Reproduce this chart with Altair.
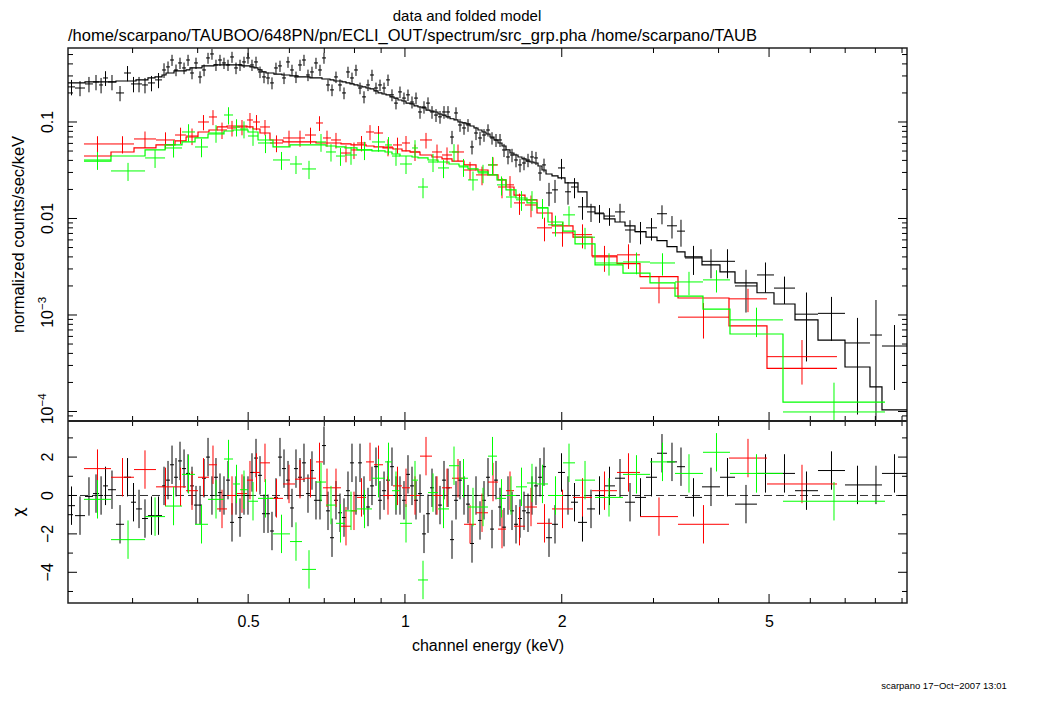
import altair as alt
import pandas as pd

# ---------------- data ----------------
black_edges = [0.2255, 0.2326, 0.2431, 0.2518, 0.2587, 0.2633, 0.2691, 0.2788, 0.2889, 0.2979, 0.3046, 0.3128,
               0.3211, 0.3313, 0.3417, 0.3478,
               0.3540, 0.3603, 0.3667, 0.3733, 0.3800, 0.3867, 0.3936, 0.4006, 0.4078, 0.4151,
               0.4224, 0.4299, 0.4376, 0.4454, 0.4534, 0.4615, 0.4697, 0.4781, 0.4866, 0.4953,
               0.5041, 0.5131, 0.5223, 0.5316, 0.5411, 0.5507, 0.5605, 0.5705, 0.5807, 0.5911,
               0.6016, 0.6123, 0.6233, 0.6344, 0.6457, 0.6572, 0.6689, 0.6809, 0.6930, 0.7054,
               0.7180, 0.7308, 0.7438, 0.7571, 0.7706, 0.7843, 0.7983, 0.8126, 0.8271, 0.8419,
               0.8568, 0.8721, 0.8877, 0.9036, 0.9197, 0.9360, 0.9527, 0.9697, 0.9870, 1.0046,
               1.0226, 1.0409, 1.0594, 1.0783, 1.0976, 1.1171, 1.1370, 1.1573, 1.1780, 1.1990,
               1.2204, 1.2422, 1.2643, 1.2868, 1.3098, 1.3332, 1.3570, 1.3811, 1.4058, 1.4309,
               1.4564, 1.4824, 1.5088, 1.5357, 1.5631, 1.5910, 1.6194, 1.6483, 1.6777, 1.7076,
               1.7380, 1.7690, 1.8006, 1.8327, 1.8655,
               1.9156, 1.9670, 2.0290, 2.0834, 2.1488, 2.2360, 2.3167, 2.4106, 2.5307, 2.6452,
               2.7647, 2.9024, 3.0468, 3.1845, 3.3283, 3.4485, 3.7173, 4.0252, 4.3013, 4.7402,
               5.1103, 5.6077, 6.2074, 6.9946, 7.8114, 8.2369, 9.2]
black_rate = [0.231, 0.225, 0.248, 0.260, 0.242, 0.286, 0.260, 0.200, 0.322, 0.248, 0.248, 0.242, 0.254, 0.273, 0.346,
              0.372, 0.439, 0.346, 0.409, 0.363, 0.439, 0.322, 0.409, 0.293, 0.346,
              0.461, 0.507, 0.390, 0.439, 0.409, 0.390, 0.472, 0.363, 0.390, 0.419,
              0.461, 0.390, 0.419, 0.330, 0.293, 0.286, 0.254, 0.363, 0.381, 0.286,
              0.419, 0.346, 0.293, 0.390, 0.439, 0.307, 0.330, 0.409, 0.346, 0.461,
              0.242, 0.215, 0.293, 0.242, 0.200, 0.330, 0.286, 0.346, 0.225, 0.182,
              0.242, 0.307, 0.225, 0.242, 0.225, 0.273, 0.191, 0.157, 0.205, 0.177,
              0.191, 0.161, 0.177, 0.127, 0.143, 0.157, 0.127, 0.118, 0.113, 0.127,
              0.127, 0.0699, 0.124, 0.0931, 0.0867, 0.0931, 0.0551, 0.0769, 0.0683, 0.0733,
              0.0826, 0.0683, 0.0651, 0.0651, 0.0513, 0.0434, 0.0455, 0.0404, 0.0359, 0.0376,
              0.0404, 0.0434, 0.0424, 0.0296, 0.0359,
              0.0184, 0.0198, 0.0334, 0.0189, 0.0212, 0.0132, 0.0117, 0.0114, 0.0106, 0.0117,
              0.0076, 0.0073, 0.0080, 0.0112, 0.0084, 0.0074, 0.0039, 0.0036, 0.0036, 0.0020,
              0.0026, 0.0019, 0.00102, 0.00104, 0.000513, 0.00062, 0.000477]
black_err = [0.042, 0.040, 0.045, 0.047, 0.044, 0.050, 0.047, 0.036, 0.058, 0.045, 0.045, 0.044, 0.046, 0.049, 0.060,
             0.052, 0.058, 0.048, 0.055, 0.050, 0.058, 0.045, 0.055, 0.042, 0.048,
             0.060, 0.065, 0.052, 0.058, 0.055, 0.052, 0.062, 0.050, 0.052, 0.056,
             0.060, 0.052, 0.056, 0.045, 0.041, 0.040, 0.036, 0.049, 0.051, 0.039,
             0.055, 0.046, 0.040, 0.052, 0.058, 0.042, 0.044, 0.054, 0.046, 0.060,
             0.034, 0.030, 0.040, 0.034, 0.028, 0.044, 0.039, 0.046, 0.031, 0.026,
             0.033, 0.041, 0.031, 0.033, 0.031, 0.037, 0.027, 0.022, 0.028, 0.025,
             0.026, 0.023, 0.025, 0.019, 0.021, 0.023, 0.019, 0.018, 0.017, 0.019,
             0.019, 0.011, 0.018, 0.014, 0.013, 0.014, 0.009, 0.012, 0.011, 0.011,
             0.012, 0.010, 0.010, 0.010, 0.0080, 0.0070, 0.0072, 0.0065, 0.0058, 0.0060,
             0.0064, 0.0068, 0.0066, 0.0050, 0.0058,
             0.005, 0.0053, 0.008, 0.005, 0.005, 0.0035, 0.0025, 0.0024, 0.0022, 0.0025,
             0.0020, 0.0019, 0.0021, 0.0025, 0.0022, 0.0023, 0.0013, 0.0012, 0.0012, 0.00094,
             0.0009, 0.0006, 0.00069, 0.0005, 0.00042, 0.00081, 0.00031]
black_model = [0.254, 0.254, 0.260, 0.260, 0.260, 0.260, 0.260, 0.266, 0.266, 0.266, 0.273, 0.273, 0.286, 0.293, 0.307,
               0.322, 0.322, 0.338, 0.338, 0.338, 0.346, 0.363, 0.363, 0.363, 0.381,
               0.381, 0.381, 0.390, 0.390, 0.390, 0.390, 0.390, 0.390, 0.390, 0.381,
               0.381, 0.372, 0.363, 0.346, 0.330, 0.322, 0.322, 0.314, 0.314, 0.307,
               0.307, 0.300, 0.300, 0.293, 0.293, 0.293, 0.286, 0.286, 0.286, 0.279,
               0.279, 0.273, 0.266, 0.266, 0.260, 0.254, 0.248, 0.242, 0.236, 0.231,
               0.225, 0.220, 0.210, 0.200, 0.195, 0.191, 0.182, 0.177, 0.169, 0.165,
               0.157, 0.154, 0.147, 0.143, 0.140, 0.133, 0.130, 0.127, 0.121, 0.118,
               0.113, 0.108, 0.105, 0.100, 0.0977, 0.0954, 0.0909, 0.0867, 0.0826, 0.0788,
               0.0751, 0.0699, 0.0651, 0.0606, 0.0564, 0.0513, 0.0477, 0.0455, 0.0434, 0.0414,
               0.0394, 0.0385, 0.0376, 0.0350, 0.0318,
               0.0289, 0.0276, 0.0263, 0.0234, 0.0234, 0.0189, 0.0132, 0.0112, 0.0099, 0.0092,
               0.0084, 0.0073, 0.0064, 0.0059, 0.0051, 0.0045, 0.0040, 0.0033, 0.0028, 0.00215,
               0.0017, 0.0013, 0.00089, 0.00055, 0.000289, 0.000180, 0.000104]
black_chi = [-0.53, -1.05, -0.05, 0.1, 0.0, 0.5, 0.3, -1.5, 0.95, -0.35, -0.7, -1.2, -1.05, -1.05, 0.5,
             0.8, 1.6, 0.95, 1.8, 1.4, 1.15, 0.5, -0.5, -0.5, 0.9,
             2.0, 0.0, 0.95, 0.15, 0.0, 0.8, -1.4, 0.0, -1.15, 0.0,
             0.0, 1.2, 1.95, 1.05, -0.95, -0.95, -1.85, -0.1, 2.0, 1.4,
             0.8, -0.65, 1.4, 0.95, 1.7, 0.1, 1.3, -0.25, -0.25, 2.6,
             -0.8, -2.2, -0.25, -0.9, -1.15, 0.25, 1.7, 0.0, 1.7, 0.0,
             -0.6, 0.5, 1.5, -0.25, 0.25, 0.8, 1.5, 0.0, 0.0, -0.25,
             1.1, 0.5, -0.25, 0.1, -2.0, -0.95, 0.4, 0.0, -0.5, 0.8,
             0.4, -2.3, -0.25, 0.8, 0.0, -0.45, -2.5, 0.0, -1.3, -0.25,
             0.95, -1.75, 0.8, -0.6, -1.65, 0.0, -0.8, -1.5, -1.2, -0.8,
             -0.9, 0.0, 0.5, 0.95, 1.5,
             -2.2, -1.5, 1.2, 0.0, -0.35, -1.4, -0.7, 0.0, 0.5, 0.9,
             -0.35, -0.1, 0.95, 2.2, 1.75, 1.5, -0.1, 0.45, 0.95, -0.45,
             1.15, 1.15, 0.25, 1.3, 0.55, 0.55, 1.15]

red_edges = [0.2420, 0.2727, 0.3019, 0.3327, 0.3619, 0.3800, 0.4006, 0.4205, 0.4357, 0.4554, 0.4760, 0.4974,
             0.5108, 0.5269, 0.5507, 0.5833, 0.6151, 0.6429, 0.6749, 0.6961, 0.7212, 0.7537, 0.7878, 0.8090,
             0.8419, 0.8721, 0.9076, 0.9485, 0.9870, 1.0226, 1.0688, 1.1270, 1.1780, 1.2312, 1.2983, 1.3691,
             1.4436, 1.5088, 1.5631, 1.6194, 1.7001, 1.7926, 1.9156, 2.1019, 2.2860, 2.5531, 2.8263, 3.3432,
             4.1885, 4.9545, 6.7512]
red_rate = [0.0592, 0.0592, 0.0667, 0.0651, 0.0733, 0.0716, 0.1000, 0.1127, 0.0826, 0.0867,
            0.0888, 0.1049, 0.1000, 0.0888, 0.0606, 0.0683, 0.0683, 0.0733, 0.0977, 0.0683,
            0.0651, 0.0477, 0.0513, 0.0606, 0.0788, 0.0769, 0.0551, 0.0578, 0.0606, 0.0489,
            0.0651, 0.0489, 0.0455, 0.0489, 0.0318, 0.0283, 0.0359, 0.0212, 0.0223, 0.0145,
            0.0138, 0.0080, 0.0071, 0.0068, 0.0040, 0.0042, 0.0019, 0.00095, 0.00147, 0.00037]
red_err = [0.012, 0.012, 0.013, 0.013, 0.014, 0.014, 0.018, 0.020, 0.016, 0.016,
           0.016, 0.019, 0.018, 0.016, 0.012, 0.013, 0.013, 0.014, 0.017, 0.013,
           0.012, 0.0095, 0.010, 0.011, 0.014, 0.014, 0.011, 0.011, 0.011, 0.0095,
           0.012, 0.0095, 0.009, 0.0095, 0.0068, 0.0062, 0.0072, 0.0050, 0.0052, 0.0036,
           0.0035, 0.0022, 0.0020, 0.0019, 0.0012, 0.0012, 0.00058, 0.00038, 0.00040, 0.00018]
red_model = [0.0444, 0.0489, 0.0538, 0.0578, 0.0636, 0.0699, 0.0788, 0.0826, 0.0888, 0.0909,
             0.0909, 0.0888, 0.0846, 0.0769, 0.0651, 0.0621, 0.0621, 0.0621, 0.0606, 0.0606,
             0.0606, 0.0592, 0.0578, 0.0578, 0.0564, 0.0551, 0.0538, 0.0525, 0.0501, 0.0489,
             0.0455, 0.0434, 0.0414, 0.0394, 0.0359, 0.0318, 0.0283, 0.0251, 0.0212, 0.0175,
             0.0156, 0.0114, 0.0084, 0.0064, 0.0041, 0.0034, 0.0025, 0.0015, 0.00077, 0.00028]
red_chi = [1.4, 0.95, 1.35, 0.45, 0.45, 0.25, 0.95, 1.6, -0.7, 0.0,
           0.1, 0.8, 1.2, 1.7, -0.15, 0.6, 0.85, 0.9, 1.75, 0.4,
           0.4, -1.6, -0.8, -0.1, 1.75, 1.6, 0.0, 0.5, 0.4, 0.0,
           2.05, 0.0, 0.4, 0.9, -1.5, -0.9, 0.7, -1.75, 0.25, -1.6,
           -0.6, -1.45, -0.7, -0.1, 0.25, 1.2, -1.1, -1.5, 1.95, 0.6]

green_edges = [0.2420, 0.2727, 0.3170, 0.3463, 0.3733, 0.3954, 0.4187, 0.4494, 0.4677, 0.4823, 0.4997,
               0.5223, 0.5581, 0.6016, 0.6344, 0.6749, 0.7054, 0.7372, 0.7672, 0.8090, 0.8644, 0.9157,
               0.9443, 0.9783, 1.0317, 1.0594, 1.1073, 1.1573, 1.2150, 1.2699, 1.3214, 1.3811, 1.4436,
               1.5021, 1.5631, 1.6338, 1.7151, 1.7926, 1.8820, 2.0110, 2.1207, 2.3167, 2.6217, 2.9540,
               3.2993, 3.7338, 4.2071, 5.3177, 8.3473]
green_rate = [0.0404, 0.0311, 0.0424, 0.0538, 0.0788, 0.0551, 0.0769, 0.1182, 0.0888, 0.0846,
              0.0716, 0.0606, 0.0404, 0.0367, 0.0326, 0.0621, 0.0489, 0.0444, 0.0455, 0.0513,
              0.0621, 0.0578, 0.0444, 0.0367, 0.0538, 0.0212, 0.0385, 0.0334, 0.0489, 0.0342,
              0.0251, 0.0296, 0.0359, 0.0223, 0.0167, 0.0156, 0.0156, 0.0129, 0.0086, 0.0109,
              0.0064, 0.00346, 0.00354, 0.00346, 0.00220, 0.00231, 0.00089, 0.0000989]
green_err = [0.0085, 0.0066, 0.0090, 0.011, 0.016, 0.012, 0.016, 0.024, 0.018, 0.017,
             0.015, 0.013, 0.0085, 0.0078, 0.0070, 0.013, 0.010, 0.0093, 0.0095, 0.011,
             0.013, 0.012, 0.0093, 0.0078, 0.011, 0.0050, 0.0082, 0.0072, 0.010, 0.0072,
             0.0056, 0.0064, 0.0076, 0.0050, 0.0038, 0.0036, 0.0036, 0.0030, 0.0021, 0.0025,
             0.0016, 0.0009, 0.0009, 0.0009, 0.0006, 0.0006, 0.0003, 0.0001]
green_model = [0.0394, 0.0444, 0.0513, 0.0578, 0.0621, 0.0683, 0.0751, 0.0807, 0.0826, 0.0826,
               0.0788, 0.0651, 0.0551, 0.0578, 0.0578, 0.0578, 0.0564, 0.0551, 0.0538, 0.0513,
               0.0501, 0.0489, 0.0466, 0.0444, 0.0434, 0.0424, 0.0404, 0.0385, 0.0367, 0.0350,
               0.0326, 0.0304, 0.0283, 0.0251, 0.0198, 0.0163, 0.0145, 0.0129, 0.0092, 0.0074,
               0.00545, 0.0033, 0.00272, 0.00215, 0.00157, 0.00115, 0.000635, 0.000125]
green_chi = [-0.2, -2.3, -1.1, -0.55, 1.1, -1.5, -0.2, 1.9, 0.6, 0.3,
             -0.3, -0.15, -2.0, -2.4, -3.85, 0.7, -0.5, -1.45, -0.8, -0.7,
             0.9, 1.75, 0.25, -1.45, 0.8, -4.4, 0.15, -0.7, 1.55, 0.9,
             -0.6, -0.6, 2.05, -0.15, 0.0, 0.45, 0.65, 0.6, 0.0, 1.7,
             0.8, -0.1, 1.1, 1.75, 1.15, 2.25, 1.15, -0.3]

x_major = [0.5, 1, 2, 5]
x_minor = [0.3, 0.4, 0.6, 0.7, 0.8, 0.9, 3, 4, 6, 7, 8, 9]
ytop_major = [1e-4, 1e-3, 1e-2, 0.1]
ytop_plain_vals = [1e-2, 0.1]
ytop_plain_text = ["0.01", "0.1"]
ytop_pow_vals = [1e-4, 1e-3]
ytop_pow_base = ["10", "10"]
ytop_pow_exp = ["\u22124", "\u22123"]
ytop_minor = [8e-5, 9e-5, 2e-4, 3e-4, 4e-4, 5e-4, 6e-4, 7e-4, 8e-4, 9e-4,
              2e-3, 3e-3, 4e-3, 5e-3, 6e-3, 7e-3, 8e-3, 9e-3,
              0.02, 0.03, 0.04, 0.05, 0.06, 0.07, 0.08, 0.09, 0.2, 0.3, 0.4, 0.5]
ybot_major = [-4, -2, 0, 2]
ybot_labels = ["\u22124", "\u22122", "0", "2"]
ybot_minor = [-5, -3, -1, 1, 3]

title_main = "data and folded model"
title_file = "/home/scarpano/TAUBOO/648PN/pn/ECLI_OUT/spectrum/src_grp.pha /home/scarpano/TAUB"
xtitle = "channel energy (keV)"
ytitle_top = "normalized counts/sec/keV"
ytitle_bot = "\u03c7"
footer = "scarpano 17\u2212Oct\u22122007 13:01"

# ---------------- layout ----------------
W, HT, HB = 839, 373, 182
H = HT + HB
FONT = "Liberation Sans"
FS = 16

xscale = alt.Scale(type="log", domain=[0.2255, 9.2], nice=False, clamp=True)
xaxis = alt.Axis(values=x_major, format="~g", domain=False, ticks=False, grid=False,
                 labelFont=FONT, labelFontSize=FS, labelColor="black", labelPadding=10,
                 title=xtitle, titleFont=FONT, titleFontSize=FS, titleFontWeight="normal",
                 titleColor="black", titlePadding=8)
ytop_scale = alt.Scale(type="log", domain=[7.97e-5, 0.5845], nice=False, range=[HT, 0], clamp=True)
ybot_scale = alt.Scale(type="linear", domain=[-5.6, 3.88], nice=False, zero=False, range=[H, HT], clamp=True)


def X(f):
    return alt.X(f, type="quantitative", scale=xscale, axis=xaxis)


def YT(f):
    return alt.Y(f, type="quantitative", scale=ytop_scale, axis=None)


def YB(f):
    return alt.Y(f, type="quantitative", scale=ybot_scale, axis=None)


def dataset(edges, rate, err, model, chi, color):
    df = pd.DataFrame({"lo": edges[:-1], "hi": edges[1:], "rate": rate, "err": err, "chi": chi})
    base = alt.Chart(df).transform_calculate(
        mid="sqrt(datum.lo*datum.hi)",
        ylo="max(datum.rate-datum.err, 1e-7)",
        yhi="datum.rate+datum.err",
        clo="datum.chi-1",
        chh="datum.chi+1",
    )
    rule = dict(color=color, strokeWidth=1, clip=True)
    hbar = base.mark_rule(**rule).encode(x=X("lo"), x2="hi", y=YT("rate"))
    vbar = base.mark_rule(**rule).encode(x=X("mid"), y=YT("ylo"), y2="yhi")
    rh = base.mark_rule(**rule).encode(x=X("lo"), x2="hi", y=YB("chi"))
    rv = base.mark_rule(**rule).encode(x=X("mid"), y=YB("clo"), y2="chh")
    sdf = pd.DataFrame({"e": edges, "m": list(model) + [model[-1]]})
    step = alt.Chart(sdf).mark_line(interpolate="step-after", color=color, strokeWidth=1.2,
                                    clip=True).encode(x=X("e"), y=YT("m"))
    return [hbar, vbar, rh, rv, step]


layers = []

# zero line of the residual panel
layers.append(alt.Chart(pd.DataFrame({"z": [0]})).mark_rule(
    color="#333333", strokeWidth=1, strokeDash=[8, 4]).encode(y=YB("z"), x=alt.value(0), x2=alt.value(W)))

layers += dataset(black_edges, black_rate, black_err, black_model, black_chi, "#000000")
layers += dataset(red_edges, red_rate, red_err, red_model, red_chi, "#ff0000")
layers += dataset(green_edges, green_rate, green_err, green_model, green_chi, "#00ff00")

# x ticks (inward) on every horizontal border
for df_vals, ln in ((x_major, 9), (x_minor, 5)):
    tdf = pd.DataFrame({"v": df_vals})
    for y0, sgn in ((0, 1), (HT, -1), (HT, 1), (H, -1)):
        layers.append(alt.Chart(tdf).mark_rule(color="black", strokeWidth=1).encode(
            x=X("v"), y=alt.value(y0), y2=alt.value(y0 + sgn * ln)))

# y ticks (inward) both sides
for vals, ln, enc in ((ytop_major, 9, YT), (ytop_minor, 5, YT), (ybot_major, 9, YB), (ybot_minor, 5, YB)):
    tdf = pd.DataFrame({"v": vals})
    layers.append(alt.Chart(tdf).mark_rule(color="black", strokeWidth=1).encode(
        y=enc("v"), x=alt.value(0), x2=alt.value(ln)))
    layers.append(alt.Chart(tdf).mark_rule(color="black", strokeWidth=1).encode(
        y=enc("v"), x=alt.value(W), x2=alt.value(W - ln)))

# y tick labels (rotated)
txt = dict(angle=270, baseline="alphabetic", font=FONT, color="black")
layers.append(alt.Chart(pd.DataFrame({"v": ytop_plain_vals, "t": ytop_plain_text})).mark_text(
    align="center", fontSize=FS, **txt).encode(y=YT("v"), x=alt.value(-15), text="t:N"))
pow_df = pd.DataFrame({"v": ytop_pow_vals, "b": ytop_pow_base, "e": ytop_pow_exp})
layers.append(alt.Chart(pow_df).mark_text(align="right", dx=5, fontSize=FS, **txt).encode(
    y=YT("v"), x=alt.value(-15), text="b:N"))
layers.append(alt.Chart(pow_df).mark_text(align="left", dx=5, dy=-7, fontSize=11.5, **txt).encode(
    y=YT("v"), x=alt.value(-15), text="e:N"))
layers.append(alt.Chart(pd.DataFrame({"v": ybot_major, "t": ybot_labels})).mark_text(
    align="center", fontSize=FS, **txt).encode(y=YB("v"), x=alt.value(-15), text="t:N"))

# panel separator
layers.append(alt.Chart(pd.DataFrame({"s": [0]})).mark_rule(color="#222222", strokeWidth=2).encode(
    y=alt.value(HT), x=alt.value(0), x2=alt.value(W)))


def label(text, x, y, **kw):
    return alt.Chart(pd.DataFrame({"t": [text]})).mark_text(color="black", **kw).encode(
        x=alt.value(x), y=alt.value(y), text="t:N")


layers.append(label(title_main, 399, -39, font=FONT, fontSize=15, align="center", baseline="top"))
layers.append(label(title_file, 0, -12, font=FONT, fontSize=16.5, align="left", baseline="middle"))
layers.append(label(ytitle_top, -44, HT / 2, font=FONT, fontSize=16.5, angle=270, align="center",
                    baseline="alphabetic"))
layers.append(label(ytitle_bot, -44, HT + HB / 2, font="DejaVu Sans", fontSize=16.5, angle=270,
                    align="center", baseline="alphabetic"))
layers.append(label(footer, 876, H + 88, font=FONT, fontSize=9.5, align="center", baseline="bottom"))

chart = alt.layer(*layers).resolve_scale(y="independent").properties(
    width=W, height=H,
    padding={"left": 60, "top": 40, "right": 110, "bottom": 90},
    autosize=alt.AutoSizeParams(type="none"),
    background="white",
).configure_view(stroke="#222222", strokeWidth=1.5)

chart.save("out.html", embed_options={"renderer": "svg", "actions": False})
